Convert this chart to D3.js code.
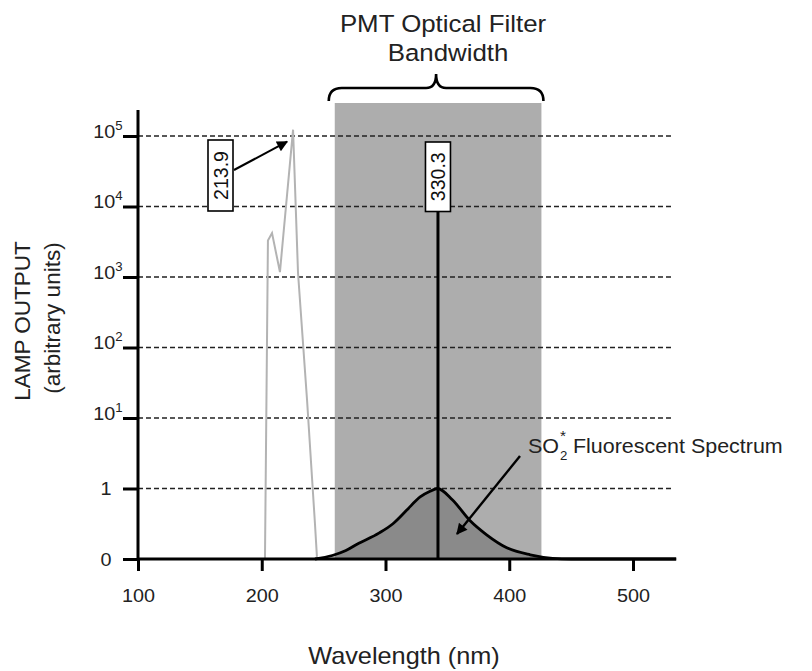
<!DOCTYPE html>
<html lang="en">
<head>
<meta charset="utf-8">
<title>Lamp output and PMT filter bandwidth</title>
<script src="https://d3js.org/d3.v7.min.js"></script>
<style>
  body { margin: 0; background: #fff; }
  svg { display: block; font-family: "Liberation Sans", Arial, Helvetica, sans-serif; }
  .grid line { stroke: #222; stroke-width: 1.4; stroke-dasharray: 5,3; }
  .axis line { stroke: #000; stroke-width: 3; }
  .axis text { fill: #222; }
</style>
</head>
<body>
<svg id="chart" width="812" height="671"></svg>
<script>
// ticks
const xTicks = [100, 200, 300, 400, 500];
const yTicks = [0, 1, 10, 100, 1000, 10000, 100000];
const yTickBase = ['0', '1', '10', '10', '10', '10', '10'];
const yTickExp = ['', '', '1', '2', '3', '4', '5'];

// lamp spectrum (grey trace)
const lampWavelength = [202.6, 205, 208.3, 214.7, 225.3, 229.3, 236.6, 243, 244.6];
const lampOutput = [0, 3300, 4200, 1175, 123000, 1150, 18, 0.5, 0.03];

// SO2* fluorescence
const so2Wavelength = [243, 257, 268, 277, 295, 306, 317, 328, 336, 342, 354, 368, 382, 398, 417, 435, 450, 535];
const so2Output = [0, 0.05, 0.12, 0.21, 0.37, 0.5, 0.69, 0.88, 0.96, 1, 0.84, 0.55, 0.34, 0.16, 0.06, 0.01, 0, 0];

// PMT filter band and labelled lines
const filterBand = [259, 426];
const lineWavelength = [225.3, 342.4];
const lineOutput = [123000, 10000];
const lineLabels = ['213.9', '330.3'];

const svg = d3.select('#chart');
const stretch = 1.1;  // source picture is a bit wide

const x = d3.scaleLinear().domain([100, 500]).range([138, 633]);
const y = d3.scaleLinear().domain([0, 6]).range([559, 136]);
// 0..1 linear, above 1 one step per decade
const level = v => v <= 1 ? v : 1 + Math.log10(v);
const yv = v => y(level(v));
const xEnd = 676;

const defs = svg.append('defs');
defs.append('marker')
  .attr('id', 'arrow')
  .attr('viewBox', '0 0 10 10')
  .attr('refX', 9).attr('refY', 5)
  .attr('markerWidth', 14).attr('markerHeight', 11)
  .attr('markerUnits', 'userSpaceOnUse')
  .attr('orient', 'auto')
  .append('path')
  .attr('d', 'M0,0 L10,5 L0,10 Z')
  .attr('fill', '#000');

// filter band
svg.append('rect')
  .attr('x', x(filterBand[0]))
  .attr('y', 103)
  .attr('width', x(filterBand[1]) - x(filterBand[0]))
  .attr('height', y(0) - 103)
  .attr('fill', '#adadad');

// dashed grid
svg.append('g')
  .attr('class', 'grid')
  .selectAll('line')
  .data(yTicks.slice(1))
  .join('line')
  .attr('x1', x(100)).attr('x2', 673)
  .attr('y1', d => yv(d)).attr('y2', d => yv(d));

// SO2 area + line
const so2 = so2Wavelength.map((w, i) => [w, so2Output[i]]);
svg.append('path')
  .datum(so2)
  .attr('d', d3.area().x(d => x(d[0])).y0(y(0)).y1(d => yv(d[1])).curve(d3.curveMonotoneX))
  .attr('fill', 'rgba(0,0,0,0.2)');

// lamp trace
const lamp = lampWavelength.map((w, i) => [w, lampOutput[i]]);
svg.append('path')
  .datum(lamp)
  .attr('d', d3.line().x(d => x(d[0])).y(d => yv(d[1])))
  .attr('fill', 'none')
  .attr('stroke', '#b3b3b3')
  .attr('stroke-width', 2);

svg.append('path')
  .datum(so2)
  .attr('d', d3.line().x(d => x(d[0])).y(d => yv(d[1])).curve(d3.curveMonotoneX))
  .attr('fill', 'none')
  .attr('stroke', '#000')
  .attr('stroke-width', 2.8);

// 330.3 emission line
svg.append('line')
  .attr('x1', x(lineWavelength[1])).attr('x2', x(lineWavelength[1]))
  .attr('y1', y(0)).attr('y2', yv(lineOutput[1]))
  .attr('stroke', '#000')
  .attr('stroke-width', 3);

// axes
const xAxis = svg.append('g')
  .attr('class', 'axis')
  .attr('transform', `translate(0,${y(0)})`)
  .call(d3.axisBottom(x).tickValues(xTicks).tickSize(12).tickPadding(18).tickFormat(d3.format('d')));
xAxis.select('.domain').remove();
xAxis.selectAll('.tick line').attr('y1', 0);
xAxis.selectAll('text')
  .attr('font-size', 18)
  .attr('font-family', null)
  .attr('transform', `scale(${stretch},1)`);

const yAxis = svg.append('g')
  .attr('class', 'axis')
  .attr('transform', `translate(${x(100)},0)`)
  .call(d3.axisLeft(y).tickValues(d3.range(7)).tickSize(15).tickFormat(''));
yAxis.select('.domain').remove();
yAxis.selectAll('.tick text').each(function (d, i) {
  const t = d3.select(this)
    .attr('font-size', 18)
    .attr('font-family', null)
    .attr('text-anchor', 'end')
    .attr('transform', `scale(${stretch},1)`);
  if (yTickExp[i]) {
    t.attr('x', -14).attr('y', 1).attr('dy', 0).text(yTickBase[i]);
    t.append('tspan').attr('dy', -8).attr('font-size', 12).text(yTickExp[i]);
  } else {
    t.attr('x', -24).attr('dy', '0.35em').text(yTickBase[i]);
  }
});

svg.append('line')
  .attr('x1', x(100)).attr('x2', xEnd)
  .attr('y1', y(0)).attr('y2', y(0))
  .attr('stroke', '#000').attr('stroke-width', 3);
svg.append('line')
  .attr('x1', x(100)).attr('x2', x(100))
  .attr('y1', 110).attr('y2', y(0) + 1.5)
  .attr('stroke', '#000').attr('stroke-width', 3);

// axis titles
function label(str, cx, by, size, anchor = 'middle') {
  return svg.append('text')
    .attr('transform', `translate(${cx},${by}) scale(${stretch},1)`)
    .attr('text-anchor', anchor)
    .attr('font-size', size)
    .attr('fill', '#222')
    .text(str);
}
label('Wavelength (nm)', 404, 664, 23);
label('PMT Optical Filter', 443, 32, 23.5);
label('Bandwidth', 448, 61, 23.5);

svg.append('text')
  .attr('transform', 'translate(30,321) rotate(-90)')
  .attr('text-anchor', 'middle')
  .attr('font-size', 22.5)
  .attr('fill', '#222')
  .text('LAMP OUTPUT');
svg.append('text')
  .attr('transform', 'translate(60,318) rotate(-90)')
  .attr('text-anchor', 'middle')
  .attr('font-size', 22.5)
  .attr('fill', '#222')
  .text('(arbitrary units)');

// brace over the filter band
const bl = x(filterBand[0]) - 6, br = x(filterBand[1]) + 2, bm = (bl + br) / 2;
svg.append('path')
  .attr('d', `M${bl},101 Q${bl},88 ${bl + 13},88 L${bm - 10},88 Q${bm},88 ${bm},74 ` +
             `Q${bm},88 ${bm + 10},88 L${br - 13},88 Q${br},88 ${br},101`)
  .attr('fill', 'none')
  .attr('stroke', '#000')
  .attr('stroke-width', 2.6);

// boxed line labels
function boxLabel(str, cx, top, bottom) {
  svg.append('rect')
    .attr('x', cx - 12.5).attr('y', top)
    .attr('width', 25).attr('height', bottom - top)
    .attr('fill', '#fff').attr('stroke', '#000').attr('stroke-width', 1.6);
  svg.append('text')
    .attr('transform', `translate(${cx + 7},${(top + bottom) / 2}) rotate(-90)`)
    .attr('text-anchor', 'middle')
    .attr('font-size', 19.5)
    .attr('fill', '#111')
    .text(str);
}
boxLabel(lineLabels[0], 220.5, 140, 211);
boxLabel(lineLabels[1], x(lineWavelength[1]), 142, yv(lineOutput[1]) + 5);

// arrow to lamp peak
svg.append('line')
  .attr('x1', 234).attr('y1', 170)
  .attr('x2', x(lineWavelength[0]) - 6).attr('y2', yv(lineOutput[0]) + 12)
  .attr('stroke', '#000').attr('stroke-width', 2)
  .attr('marker-end', 'url(#arrow)');

// SO2* label (sub and sup stacked) and arrow
label('SO', 528, 453, 19.5, 'start');
label('2', 560, 460, 12, 'start');
label('*', 560, 441, 14, 'start');
label('Fluorescent Spectrum', 573, 453, 19.5, 'start');

svg.append('line')
  .attr('x1', 520).attr('y1', 456)
  .attr('x2', 457).attr('y2', 534)
  .attr('stroke', '#000').attr('stroke-width', 2.4)
  .attr('marker-end', 'url(#arrow)');
</script>
</body>
</html>
